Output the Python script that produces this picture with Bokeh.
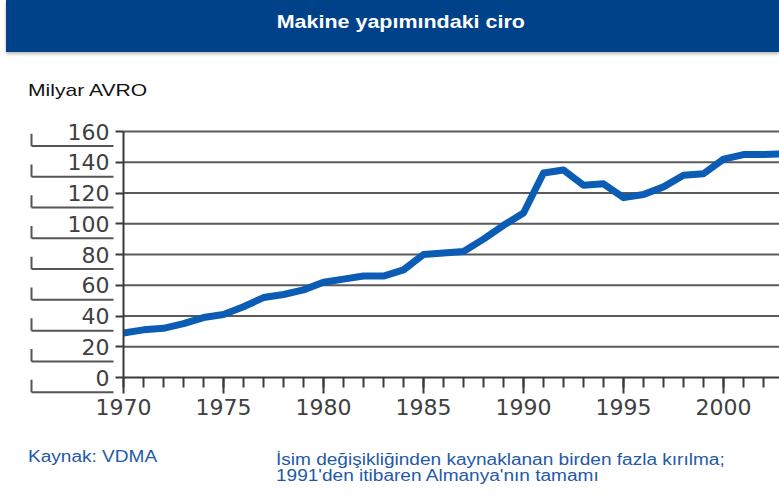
from bokeh.plotting import figure
from bokeh.models import (LinearAxis, FixedTicker, Range1d, Div, ColumnDataSource)
from bokeh.layouts import column, row
from bokeh.embed import file_html
from bokeh.resources import INLINE

# ---- data ----
title_text = "Makine yapımındaki ciro"
unit_text = "Milyar AVRO"
source_text = "Kaynak: VDMA"
note_lines = ["İsim değişikliğinden kaynaklanan birden fazla kırılma;",
              "1991'den itibaren Almanya'nın tamamı"]

years = list(range(1970, 2004))
turnover = [29, 31, 32, 35, 39, 41, 46, 52, 54, 57,
            62, 64, 66, 66, 70, 80, 81, 82, 90, 99,
            107, 133, 135, 125, 126, 117, 119, 124, 131.5, 132.5,
            142, 145, 145, 145.5]

y_ticks = [0, 20, 40, 60, 80, 100, 120, 140, 160]
x_major_ticks = [1970, 1975, 1980, 1985, 1990, 1995, 2000]

# ---- styling ----
W = 779
BAR = "#00428a"
LINE = "#0b5cb4"
AX = "#3a3a3a"
GRID = "#5a5a5a"
BLUE_TXT = "#2459a8"

title_div = Div(
    text=(f'<div style="width:{W - 6}px;height:52px;margin-left:6px;background:{BAR};'
          'box-shadow:0 2px 3px #b8b8b8;text-align:center;padding-left:16px;box-sizing:border-box;">'
          '<span style="display:inline-block;font-family:\'Liberation Sans\',Arial,sans-serif;'
          'font-weight:bold;font-size:19px;line-height:44px;color:white;'
          f'transform:scaleX(1.13);">{title_text}</span></div>'),
    width=W, height=53, margin=0)

unit_div = Div(
    text=('<div style="padding:28px 0 0 28px;">'
          '<span style="display:inline-block;font-family:\'Liberation Sans\',Arial,sans-serif;'
          'font-size:17px;line-height:20px;color:#111;transform:scaleX(1.24);'
          f'transform-origin:0 0;">{unit_text}</span></div>'),
    width=W, height=55, margin=0)

p = figure(width=W, height=317, output_backend="svg", toolbar_location=None,
           x_axis_location=None, y_axis_location=None,
           x_range=Range1d(1963.85, 2002.8), y_range=Range1d(-31.2, 174.96),
           min_border=0, outline_line_color=None,
           background_fill_color="white", border_fill_color="white")
p.grid.visible = False

# horizontal gridlines starting at the y axis
n = len(y_ticks) - 1
p.segment(x0=[years[0]] * n, x1=[years[-1]] * n, y0=y_ticks[1:], y1=y_ticks[1:],
          line_color=GRID, line_width=2)

# L-shaped brackets left of the y tick labels (as in the reference)
bx0, bx1 = 1965.4, 1969.5
p.segment(x0=[bx0] * len(y_ticks), x1=[bx1] * len(y_ticks),
          y0=[v - 9.5 for v in y_ticks], y1=[v - 9.5 for v in y_ticks],
          line_color="#555555", line_width=2)
p.segment(x0=[bx0] * len(y_ticks), x1=[bx0] * len(y_ticks),
          y0=[v - 1.5 for v in y_ticks], y1=[v - 9.5 for v in y_ticks],
          line_color="#555555", line_width=2)

src = ColumnDataSource(dict(year=years, value=turnover))
p.line("year", "value", source=src, line_color=LINE, line_width=7,
       line_join="round", line_cap="butt")

yaxis = LinearAxis(fixed_location=years[0], bounds=(y_ticks[0], y_ticks[-1]),
                   ticker=FixedTicker(ticks=y_ticks))
yaxis.axis_line_color = AX
yaxis.axis_line_width = 2
yaxis.major_tick_line_color = AX
yaxis.major_tick_line_width = 2
yaxis.major_tick_out = 8
yaxis.major_tick_in = 0
yaxis.minor_tick_line_color = None
yaxis.major_label_standoff = 6
yaxis.major_label_text_font = "DejaVu Sans"
yaxis.major_label_text_font_size = "22px"
yaxis.major_label_text_color = "#404040"
p.add_layout(yaxis, "left")

xaxis = LinearAxis(fixed_location=y_ticks[0], bounds=(years[0], years[-1] + 5),
                   ticker=FixedTicker(ticks=x_major_ticks, minor_ticks=years))
xaxis.axis_line_color = AX
xaxis.axis_line_width = 2
xaxis.major_tick_line_color = AX
xaxis.major_tick_line_width = 2
xaxis.minor_tick_line_color = AX
xaxis.minor_tick_line_width = 2
xaxis.major_tick_out = 16
xaxis.major_tick_in = 0
xaxis.minor_tick_out = 10
xaxis.minor_tick_in = 0
xaxis.major_label_standoff = 5
xaxis.major_label_text_font = "DejaVu Sans"
xaxis.major_label_text_font_size = "22px"
xaxis.major_label_text_color = "#404040"
p.add_layout(xaxis, "below")

src_div = Div(
    text=('<div style="padding:23px 0 0 28px;">'
          '<span style="display:inline-block;font-family:\'Liberation Sans\',Arial,sans-serif;'
          f'font-size:16px;line-height:18px;color:{BLUE_TXT};transform:scaleX(1.19);'
          f'transform-origin:0 0;white-space:nowrap;">{source_text}</span></div>'),
    width=248, height=70, margin=0)

note_div = Div(
    text=('<div style="padding:27px 0 0 28px;">'
          '<span style="display:inline-block;font-family:\'Liberation Sans\',Arial,sans-serif;'
          f'font-size:16px;line-height:16px;color:{BLUE_TXT};transform:scaleX(1.19);'
          'transform-origin:0 0;white-space:nowrap;">'
          + "<br>".join(note_lines) + '</span></div>'),
    width=W - 248, height=70, margin=0)

layout = column(title_div, unit_div, p, row(src_div, note_div, spacing=0), spacing=0)

open("out.html", "w").write(file_html(layout, INLINE))
